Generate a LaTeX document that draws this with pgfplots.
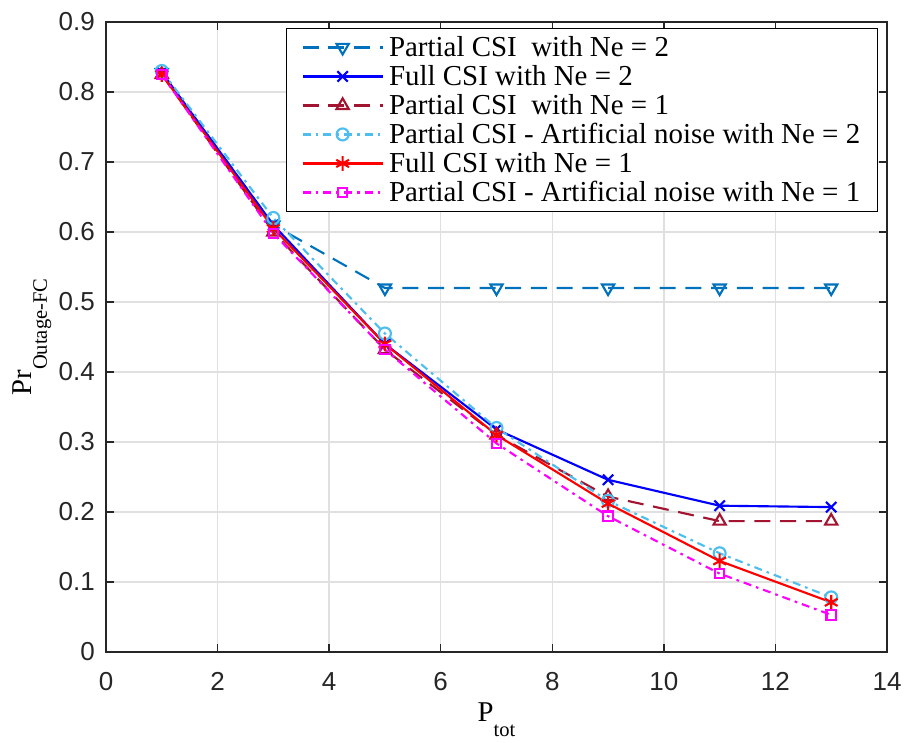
\documentclass[border=0pt]{standalone}
\usepackage{fontspec}
\setmainfont{Liberation Serif}
\newfontfamily\ticksans{Liberation Sans}
\usepackage{pgfplots}
\pgfplotsset{compat=1.18}
\definecolor{c1}{HTML}{0072BD}
\definecolor{c3}{HTML}{A2142F}
\definecolor{c4}{HTML}{4DBEEE}
\definecolor{mag}{rgb}{1,0,1}
\definecolor{gridc}{rgb}{0.88,0.88,0.88}
\definecolor{axc}{rgb}{0.15,0.15,0.15}
\begin{document}
\begin{tikzpicture}
\begin{axis}[
  scale only axis,
  width=585.75pt, height=472.5pt,
  xmin=0, xmax=14, ymin=0, ymax=0.9,
  xtick={0,2,...,14},
  ytick={0,0.1,...,0.9},
  yticklabels={0,0.1,0.2,0.3,0.4,0.5,0.6,0.7,0.8,0.9},
  xticklabels={0,2,4,6,8,10,12,14},
  tick align=inside,
  major tick length=6pt,
  grid=major,
  major grid style={draw=gridc, line width=1pt},
  axis line style={line width=1pt, draw=axc},
  tick style={line width=1pt, draw=axc},
  ticklabel style={font=\ticksans\fontsize{19.5}{21}\selectfont, text=axc},
  xticklabel style={anchor=north, inner sep=0pt, yshift=-15pt},
  yticklabel style={anchor=east, inner sep=0pt, xshift=-8.25pt},
  xlabel={P\raisebox{-11.25pt}{\fontsize{15.4}{16}\selectfont tot}},
  ylabel={Pr\raisebox{-11.25pt}{\fontsize{15.4}{16}\selectfont Outage-FC}},
  label style={font=\fontsize{21.5}{23}\selectfont},
  xlabel style={at={(axis description cs:0.5,-0.1111)}, anchor=base},
  ylabel style={at={(axis description cs:-0.09475,0.5)}, anchor=base},
  legend style={at={(1,1)}, anchor=north east, xshift=-6.75pt, yshift=-4.7pt,
    font=\fontsize{21.7}{24}\selectfont,
    draw=black, line width=0.75pt, inner xsep=11pt, inner ysep=3.5pt,
    row sep=0.75pt, column sep=2pt,
    cells={anchor=west, text height=15.5pt, text depth=4.5pt, inner sep=1.5pt}},
  legend cell align=left,
  legend image code/.code={\draw[mark repeat=2, mark phase=2] plot coordinates {(0pt,0pt) (30pt,0pt) (60pt,0pt)};},
  every axis plot/.append style={line width=1.6pt},
]
\addplot[color=c1, dash pattern=on 12pt off 7.3pt, mark=triangle, mark size=5.3pt, mark options={solid, rotate=180}]
  coordinates {(1,0.828) (3,0.61) (5,0.52) (7,0.52) (9,0.52) (11,0.52) (13,0.52)};
\addlegendentry{Partial CSI\ \ with Ne = 2}
\addplot[color=blue, mark=x, mark size=5.5pt]
  coordinates {(1,0.828) (3,0.61) (5,0.44) (7,0.318) (9,0.246) (11,0.209) (13,0.207)};
\addlegendentry{Full CSI with Ne = 2}
\addplot[color=c3, dash pattern=on 12pt off 7.3pt, mark=triangle, mark size=5.3pt, mark options={solid}]
  coordinates {(1,0.825) (3,0.60) (5,0.432) (7,0.31) (9,0.222) (11,0.187) (13,0.187)};
\addlegendentry{Partial CSI\ \ with Ne = 1}
\addplot[color=c4, dash pattern=on 6pt off 3.75pt on 2pt off 3.75pt, mark=o, mark size=4.5pt, mark options={solid}]
  coordinates {(1,0.83) (3,0.62) (5,0.455) (7,0.32) (9,0.216) (11,0.141) (13,0.078)};
\addlegendentry{Partial CSI - Artificial noise with Ne = 2}
\addplot[color=red, mark=asterisk, mark size=5.5pt]
  coordinates {(1,0.825) (3,0.605) (5,0.44) (7,0.31) (9,0.212) (11,0.130) (13,0.071)};
\addlegendentry{Full CSI with Ne = 1}
\addplot[color=mag, dash pattern=on 6pt off 3.75pt on 2pt off 3.75pt, mark=square, mark size=3.5pt, mark options={solid}]
  coordinates {(1,0.825) (3,0.598) (5,0.432) (7,0.298) (9,0.194) (11,0.112) (13,0.053)};
\addlegendentry{Partial CSI - Artificial noise with Ne = 1}
\end{axis}
\pgfresetboundingbox
\path[use as bounding box] ([shift={(-79.5pt,-67.5pt)}]current axis.south west) rectangle ([shift={(14.25pt,16.5pt)}]current axis.north east);
\end{tikzpicture}
\end{document}
